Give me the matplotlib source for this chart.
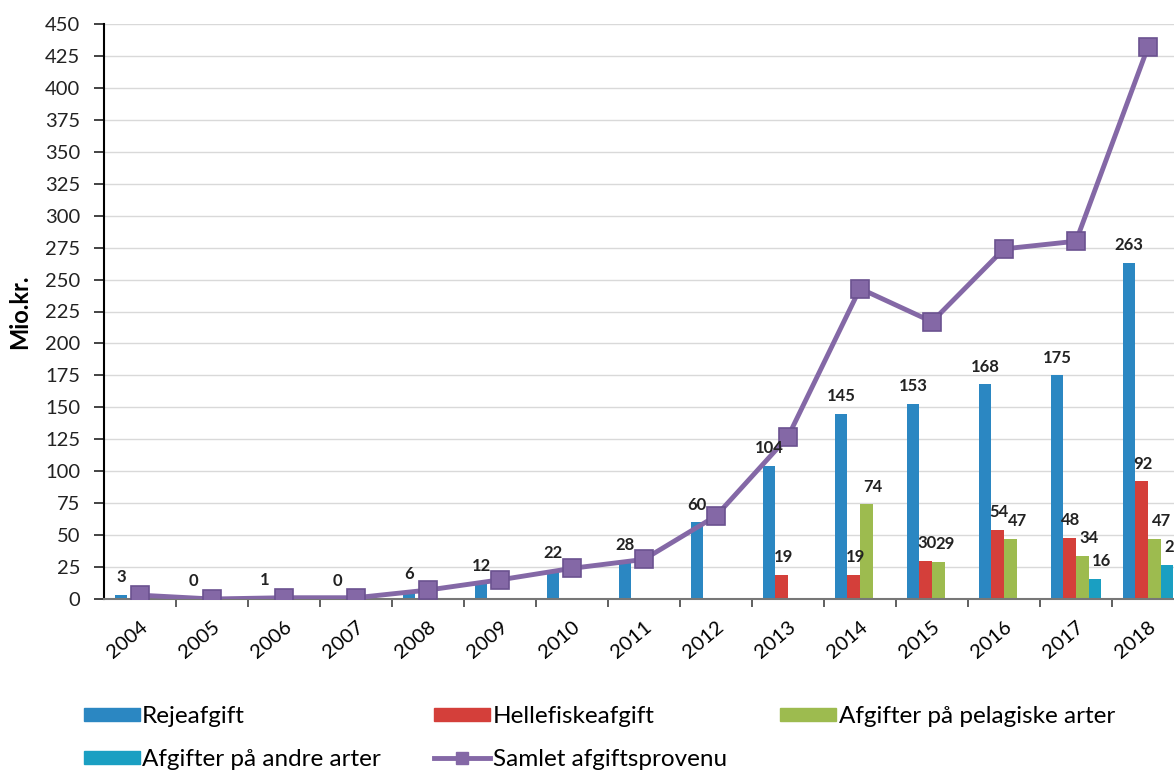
import numpy as np
import matplotlib
matplotlib.use("Agg")
import matplotlib.pyplot as plt
from matplotlib.lines import Line2D
from matplotlib.patches import Patch

plt.rcParams['font.family'] = ['Lato', 'DejaVu Sans']

years = ['2004', '2005', '2006', '2007', '2008', '2009', '2010', '2011',
         '2012', '2013', '2014', '2015', '2016', '2017', '2018']
reje = [3, 0, 1, 0, 6, 12, 22, 28, 60, 104, 145, 153, 168, 175, 263]
helle = [0, 0, 0, 0, 0, 0, 0, 0, 0, 19, 19, 30, 54, 48, 92]
pelag = [0, 0, 0, 0, 0, 0, 0, 0, 0, 0, 74, 29, 47, 34, 47]
andre = [0, 0, 0, 0, 0, 0, 0, 0, 0, 0, 0, 0, 0, 16, 27]
samlet = [3, 0, 1, 1, 7, 15, 24, 31, 65, 127, 243, 217, 274, 280, 432]

c_reje = '#2b87c2'
c_helle = '#d43f3a'
c_pelag = '#9dbb4f'
c_andre = '#1a9fc2'
c_line = '#8468a6'

fig = plt.figure(figsize=(11.74, 7.76), dpi=100)
ax = fig.add_axes([104 / 1174, 1 - 599 / 776, 1 - 104 / 1174, (599 - 24) / 776])

x = np.arange(len(years))
w = 0.175
series = [(reje, c_reje, 0), (helle, c_helle, 1),
          (pelag, c_pelag, 5), (andre, c_andre, 5)]
for i, (vals, col, dx) in enumerate(series):
    pos = x + (i - 1.5) * w
    for p, v in zip(pos, vals):
        if i > 0 and v == 0:
            continue
        if v > 0:
            ax.bar(p, v, width=w, color=col, zorder=2)
        ax.annotate(str(v), (p, v), xytext=(dx, 7),
                    textcoords='offset points', ha='center', va='bottom',
                    fontsize=12, fontweight='bold', color='#222222',
                    annotation_clip=False, zorder=4)

ax.plot(x, samlet, color=c_line, lw=3.5, marker='s', ms=12.5,
        mfc=c_line, mec='#6b5290', mew=1.2, zorder=3)

ax.set_xlim(-0.5, -0.5 + (1174 - 104) / 72)
ax.set_ylim(0, 450)
ax.set_yticks(np.arange(0, 451, 25))
ax.tick_params(axis='y', labelsize=14.5, length=7, width=1.2, pad=10,
               colors='#222222')
ax.set_ylabel('Mio.kr.', fontsize=17, fontweight='bold', labelpad=10)

ax.set_xticks(x)
ax.set_xticklabels(years, rotation=40, ha='right', rotation_mode='anchor',
                   fontsize=14.5)
ax.tick_params(axis='x', which='major', length=0, pad=14)
ax.set_xticks(x[:-1] + 0.5, minor=True)
ax.tick_params(axis='x', which='minor', length=6, width=1.2, color='#444444')

ax.grid(axis='y', color='#d9d9d9', lw=1, zorder=0)
ax.set_axisbelow(True)
for s in ['top', 'right']:
    ax.spines[s].set_visible(False)
ax.spines['left'].set_linewidth(1.5)
ax.spines['bottom'].set_color('#777777')
ax.spines['bottom'].set_linewidth(1.5)

handles = [
    Patch(color=c_reje, label='Rejeafgift'),
    Patch(color=c_andre, label='Afgifter på andre arter'),
    Patch(color=c_helle, label='Hellefiskeafgift'),
    Line2D([], [], color=c_line, lw=3.5, marker='s', ms=9, label='Samlet afgiftsprovenu'),
    Patch(color=c_pelag, label='Afgifter på pelagiske arter'),
]
fig.legend(handles=handles, ncol=3, loc='upper left',
           bbox_to_anchor=(62 / 1174, 1 - 684 / 776), frameon=False,
           fontsize=17.5, handlelength=2.3, handleheight=0.45, handletextpad=0.1,
           columnspacing=2.2, labelspacing=0.9)

fig.savefig('out.png', dpi=100)
